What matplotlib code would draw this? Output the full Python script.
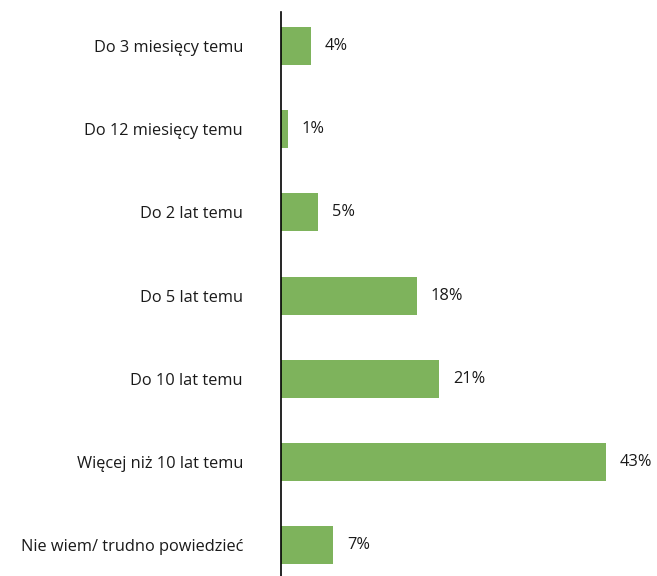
import matplotlib.pyplot as plt

plt.rcParams['font.family'] = ['Open Sans', 'DejaVu Sans']

# Data
categories = ['Do 3 miesięcy temu', 'Do 12 miesięcy temu', 'Do 2 lat temu',
              'Do 5 lat temu', 'Do 10 lat temu', 'Więcej niż 10 lat temu',
              'Nie wiem/ trudno powiedzieć']
values = [4, 1, 5, 18, 21, 43, 7]

fig = plt.figure(figsize=(6.57, 5.76), dpi=100)
ax = fig.add_axes([280.5 / 657, 0, 1 - 280.5 / 657, 1 - 12 / 576])

y = range(len(categories))
ax.barh(y, values, height=0.457, color='#7EB35C')

for yi, v in zip(y, values):
    ax.text(v + 1.8, yi, f'{v}%', va='center', ha='left', fontsize=11.8, color='#1a1a1a')

ax.set_yticks(list(y))
ax.set_yticklabels(categories, fontsize=11.8, color='#1a1a1a')
ax.tick_params(axis='y', length=0, pad=27)
ax.set_ylim(6.37, -0.41)
ax.set_xlim(0, 49.8)
ax.set_xticks([])

for side in ['top', 'right', 'bottom']:
    ax.spines[side].set_visible(False)
ax.spines['left'].set_color('black')
ax.spines['left'].set_linewidth(1.2)

fig.savefig('out.png', dpi=100)
